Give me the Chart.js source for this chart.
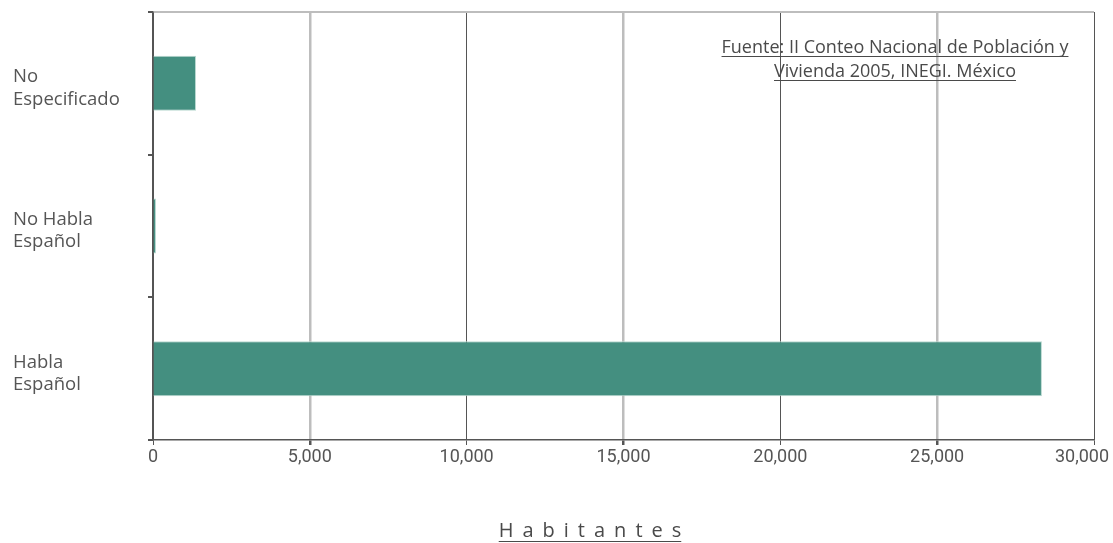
<!DOCTYPE html>
<html>
<head>
<meta charset="utf-8">
<script src="https://cdn.jsdelivr.net/npm/chart.js@4"></script>
<style>
  html, body { margin: 0; padding: 0; background: #fff; }
  #wrap { width: 1113px; height: 543px; position: relative; }
</style>
</head>
<body>
<div id="wrap"><canvas id="myChart"></canvas></div>
<script>
const categories = [['No', 'Especificado'], ['No Habla', 'Español'], ['Habla', 'Español']];
const habitantes = [1371, 95, 28340];
const xTicks = [0, 5000, 10000, 15000, 20000, 25000, 30000];
const sourceLines = ['Fuente: II Conteo Nacional de Población y', 'Vivienda 2005, INEGI. México'];
const axisTitle = 'Habitantes';

const ctx = document.getElementById('myChart');
const labelFont = '"Open Sans", "DejaVu Sans", sans-serif';

// texts drawn by hand: source note and the spaced-out axis title
const extraText = {
  id: 'extraText',
  beforeDraw(chart) {
    // pull the last x label back inside the canvas, like the original
    const items = chart.scales.x.getLabelItems();
    const last = items[items.length - 1];
    if (last && !last._moved) {
      last.options.translation[0] -= 12;
      last._moved = true;
    }
  },
  afterDraw(chart) {
    const c = chart.ctx;
    c.save();
    c.fillStyle = '#4a4a4a';
    c.strokeStyle = '#4a4a4a';
    c.lineWidth = 1;
    c.font = '18px ' + labelFont;
    c.textAlign = 'center';
    c.textBaseline = 'alphabetic';
    const cx = 895;
    sourceLines.forEach((t, i) => {
      const y = 53 + i * 24;
      c.fillText(t, cx, y);
      const w = c.measureText(t).width;
      c.beginPath();
      c.moveTo(cx - w / 2, y + 3.5);
      c.lineTo(cx + w / 2, y + 3.5);
      c.stroke();
    });

    c.font = '20px ' + labelFont;
    c.letterSpacing = '9px';
    const w = c.measureText(axisTitle).width - 9;
    const tx = 590 - w / 2;
    c.textAlign = 'left';
    c.fillText(axisTitle, tx, 537);
    c.beginPath();
    c.moveTo(tx, 541.5);
    c.lineTo(tx + w, 541.5);
    c.stroke();
    c.restore();
  }
};

new Chart(ctx, {
  type: 'bar',
  data: {
    labels: categories,
    datasets: [{
      label: 'Habitantes',
      data: habitantes,
      backgroundColor: '#448f80',
      borderColor: '#b9d8d0',
      borderWidth: 1,
      categoryPercentage: 0.385,
      barPercentage: 1
    }]
  },
  options: {
    indexAxis: 'y',
    responsive: true,
    maintainAspectRatio: false,
    animation: false,
    layout: { padding: { left: 13, right: 19, top: 12, bottom: 0 } },
    plugins: {
      legend: { display: false },
      tooltip: { enabled: false }
    },
    scales: {
      x: {
        min: 0,
        max: 30000,
        afterBuildTicks: (scale) => { scale.ticks = xTicks.map(v => ({ value: v })); },
        afterFit: (scale) => {
          scale.height = 103;
          scale.paddingLeft = 0;
          scale.paddingRight = 0;
        },
        border: { display: true, color: '#555', width: 1.5 },
        grid: {
          color: (c) => (c.tick && c.tick.value % 10000 === 0) ? '#555' : '#bdbdbd',
          lineWidth: (c) => (c.tick && c.tick.value % 10000 === 0) ? 1 : 2.5,
          tickColor: '#555',
          tickLength: 5
        },
        ticks: {
          color: '#555',
          padding: 2,
          font: { family: 'Roboto, "DejaVu Sans Condensed", sans-serif', size: 18 },
          callback: (v) => Number(v).toLocaleString('en-US')
        }
      },
      y: {
        afterFit: (scale) => {
          scale.width = 140;
          scale.paddingTop = 0;
          scale.paddingBottom = 0;
        },
        border: { display: true, color: '#555', width: 1.5 },
        grid: {
          offset: true,
          color: (c) => c.index === 0 ? '#bdbdbd' : 'rgba(0,0,0,0)',
          lineWidth: 2,
          tickColor: '#555',
          tickLength: 5
        },
        ticks: {
          color: '#555',
          crossAlign: 'far',
          labelOffset: 5,
          font: { family: labelFont, size: 18.5, lineHeight: 1.2 },
          padding: 6
        }
      }
    }
  },
  plugins: [extraText]
});
</script>
</body>
</html>
